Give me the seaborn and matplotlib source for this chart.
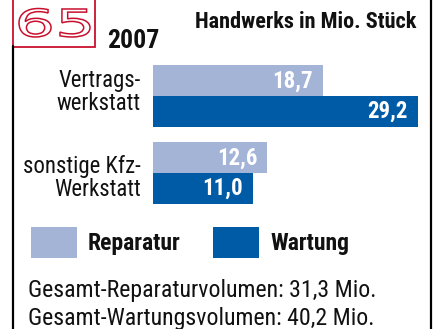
import matplotlib
matplotlib.use("Agg")
import matplotlib.pyplot as plt
from matplotlib import font_manager
from matplotlib.patches import Rectangle, PathPatch
from matplotlib.textpath import TextPath
from matplotlib.font_manager import FontProperties
from matplotlib.lines import Line2D
from matplotlib.transforms import Affine2D
import seaborn as sns
import pandas as pd

# --- data -------------------------------------------------------------
categories = ["Vertrags-\nwerkstatt", "sonstige Kfz-\nWerkstatt"]
series = ["Reparatur", "Wartung"]
reparatur = [18.7, 12.6]
wartung = [29.2, 11.0]
title = "Handwerks in Mio. Stück"
year = "2007"
badge = "65"
footer = ["Gesamt-Reparaturvolumen: 31,3 Mio.",
          "Gesamt-Wartungsvolumen: 40,2 Mio."]

LIGHT = "#A4B4D7"
DARK = "#005BA6"
RED = "#C8102E"
INK = "#111111"

W, H = 434, 329

sns.set_theme(style="white")

available = {f.name for f in font_manager.fontManager.ttflist}
narrow = next((n for n in ["Liberation Sans Narrow", "DejaVu Sans Condensed",
                           "Roboto Condensed", "Liberation Sans"] if n in available),
              "DejaVu Sans")
plt.rcParams["font.family"] = [narrow, "DejaVu Sans"]


def fx(px):
    return px / W


def fy(py):
    return 1 - py / H


df = pd.DataFrame({
    "category": categories * 2,
    "series": [series[0]] * 2 + [series[1]] * 2,
    "value": reparatur + wartung,
})

fig = plt.figure(figsize=(W / 100, H / 100), dpi=100)
fig.patch.set_facecolor("white")

# bar area: value 0 at x=153 px, 29.2 at x=418 px; 77 px per category step
ax_left, ax_right = 153, 418
step = 77.0
c0 = 96.2
ax_top, ax_bot = c0 - 0.5 * step, c0 + 1.5 * step
ax = fig.add_axes([fx(ax_left), fy(ax_bot), fx(ax_right - ax_left), (ax_bot - ax_top) / H])
sns.barplot(data=df, y="category", x="value", hue="series", hue_order=series,
            order=categories, orient="h", palette=[LIGHT, DARK], saturation=1,
            width=0.8, linewidth=0, legend=False, ax=ax)
ax.set_xlim(0, max(wartung))
ax.set_ylim(1.5, -0.5)
ax.axis("off")

for cont in ax.containers:
    labels = [f"{b.get_width():.1f}".replace(".", ",") for b in cont]
    texts = ax.bar_label(cont, labels=labels, padding=-7.2, color="white",
                         fontsize=16.5, fontweight="bold")
    for t in texts:
        t.set_horizontalalignment("right")
        t.set_verticalalignment("center")

# category labels (block centres in pixel rows)
label_rows = [92.5, 177.5]
for cat, row in zip(categories, label_rows):
    ax.text(-12 / 9.075, (row - c0) / step, cat, ha="right", va="center",
            fontsize=16.4, linespacing=1.0, color=INK,
            transform=ax.transData, clip_on=False)

# frame lines
fig.add_artist(Line2D([fx(12.8), fx(12.8)], [fy(46), fy(H)], color="black", lw=1.6))
fig.add_artist(Line2D([fx(430.8), fx(430.8)], [fy(0), fy(H)], color="black", lw=1.6))

# badge box with outlined number
fig.add_artist(Rectangle((fx(12.5), fy(46.5)), fx(95 - 12.5), (46.5 + 2) / H,
                         facecolor="white", edgecolor=RED, lw=1.3))
tp = TextPath((0, 0), badge, size=10, prop=FontProperties(family="DejaVu Sans"))
bb = tp.get_extents()
sx = (90 - 19) / bb.width
sy = (37 - 8.5) / bb.height
trans = Affine2D().translate(-bb.x0, -bb.y0).scale(sx, sy).translate(19, H - 37)
patch = PathPatch(trans.transform_path(tp), facecolor="white", edgecolor=RED,
                  lw=1.1, transform=None)
fig.add_artist(patch)

fig.text(fx(107), fy(48.5), year, ha="left", va="baseline", fontsize=18.5,
         fontweight="bold", color=INK)
fig.text(fx(416), fy(28.5), title, ha="right", va="baseline", fontsize=16,
         fontweight="bold", color=INK)

# legend
for x0, name, col in [(31, series[0], LIGHT), (213, series[1], DARK)]:
    fig.add_artist(Rectangle((fx(x0), fy(257.7)), fx(46), 31 / H,
                             facecolor=col, edgecolor="none"))
    fig.text(fx(x0 + 57), fy(250), name, ha="left", va="baseline",
             fontsize=17, fontweight="bold", color=INK)

# totals
fig.text(fx(28), fy(297.5), footer[0], ha="left", va="baseline", fontsize=17.2,
         color=INK)
fig.text(fx(28), fy(325), footer[1], ha="left", va="baseline", fontsize=17.2,
         color=INK)

fig.savefig("out.png", dpi=100, facecolor="white")
